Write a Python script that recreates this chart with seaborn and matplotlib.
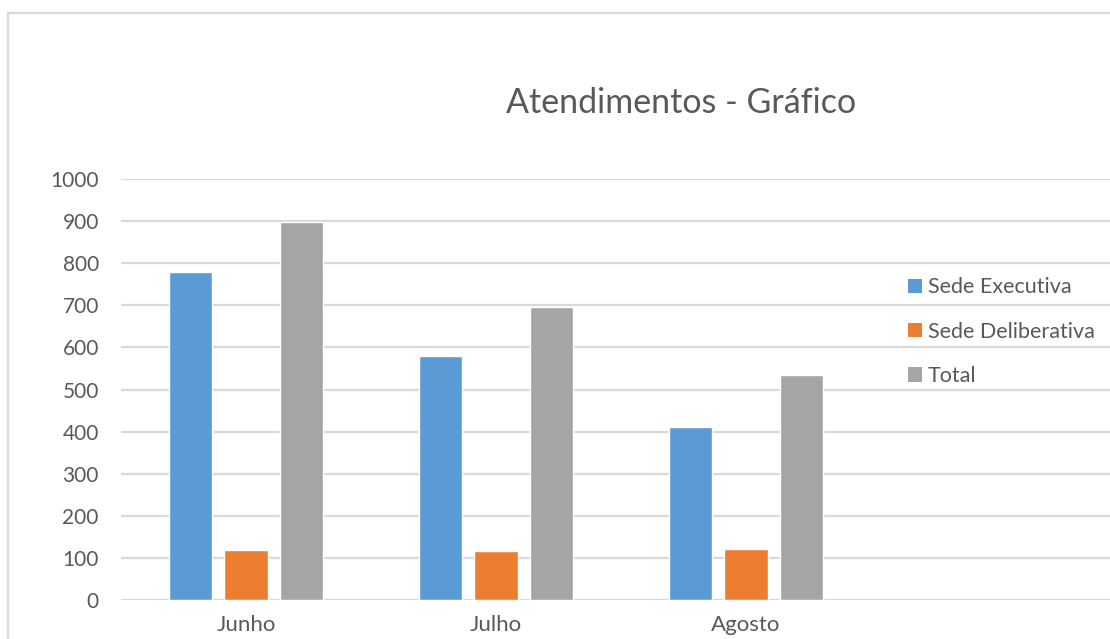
import numpy as np
import pandas as pd
import matplotlib
matplotlib.use("Agg")
import matplotlib.pyplot as plt
from matplotlib.lines import Line2D
from matplotlib.patches import Patch
import seaborn as sns

months = ["Junho", "Julho", "Agosto"]
series = ["Sede Executiva", "Sede Deliberativa", "Total"]
sede_executiva = [779, 579, 412]
sede_deliberativa = [119, 117, 122]
total = [898, 696, 534]
y_ticks = [0, 100, 200, 300, 400, 500, 600, 700, 800, 900, 1000]
colors = ["#5B9BD5", "#ED7D31", "#A5A5A5"]
TEXT = "#595959"
GRID = "#D9D9D9"

df = pd.DataFrame({
    "mes": months * 3,
    "serie": [s for s in series for _ in months],
    "valor": sede_executiva + sede_deliberativa + total,
})

sns.set_style("white")
plt.rcParams["font.family"] = ["Lato", "DejaVu Sans"]

W, H = 1110, 639
fig = plt.figure(figsize=(W / 100, H / 100), dpi=100)
ax = fig.add_axes([121 / W, (H - 600) / H, 1 - 121 / W, 421 / H])

sns.barplot(data=df, x="mes", y="valor", hue="serie", order=months,
            hue_order=series, palette=colors, width=0.666, gap=0.225,
            saturation=1, ax=ax, legend=False)

ax.set_xlim(-0.5, (W - 246) / 250)
ax.set_ylim(0, 1000)
ax.set_yticks(y_ticks)
ax.set_yticklabels([str(v) for v in y_ticks])
ax.grid(axis="y", color=GRID, linewidth=1.6)
ax.set_axisbelow(True)
for s in ax.spines.values():
    s.set_visible(False)
ax.tick_params(axis="both", length=0, colors=TEXT)
ax.tick_params(axis="y", pad=16, labelsize=15)
ax.tick_params(axis="x", pad=11, labelsize=16)
ax.set_xlabel("")
ax.set_ylabel("")

fig.text(681 / W, 1 - 103 / H, "Atendimentos - Gráfico", ha="center", va="center",
         fontsize=24.5, color=TEXT)

handles = [Patch(facecolor=c, edgecolor="none") for c in colors]
fig.legend(handles, series, loc="upper left", bbox_to_anchor=(889 / W, 1 - 258 / H),
           frameon=False, fontsize=15.5, labelcolor=TEXT, handlelength=0.65,
           handleheight=0.65, handletextpad=0.25, labelspacing=1.13)

# outer chart frame
fig.add_artist(Line2D([8 / W, 8 / W], [0, 1 - 13 / H], color=GRID, linewidth=1.6,
                      transform=fig.transFigure))
fig.add_artist(Line2D([8 / W, 1], [1 - 13 / H, 1 - 13 / H], color=GRID, linewidth=1.6,
                      transform=fig.transFigure))

fig.savefig("out.png", dpi=100)
